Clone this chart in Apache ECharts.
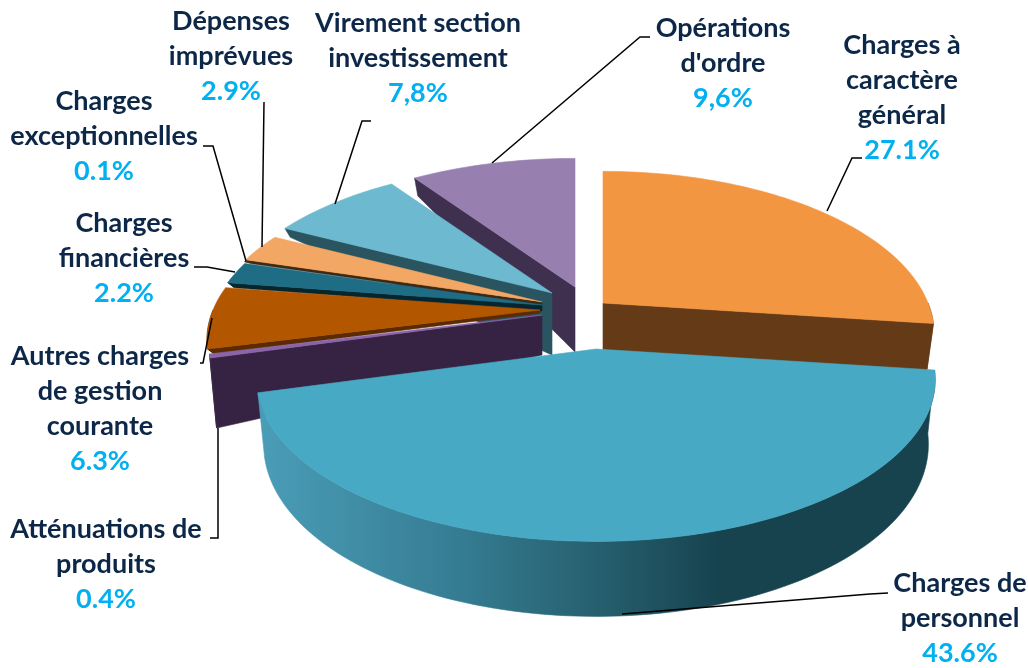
<!DOCTYPE html>
<html>
<head>
<meta charset="utf-8">
<style>
    html, body { margin: 0; padding: 0; background: #fff; }
    #main { width: 1028px; height: 668px; }
</style>
</head>
<body>
<div id="main"></div>
<script src="https://cdn.jsdelivr.net/npm/echarts@6/dist/echarts.min.js"></script>
<script>
// clockwise from 12 o'clock
var categories = ['Charges à caractère général', 'Charges de personnel', 'Atténuations de produits',
    'Autres charges de gestion courante', 'Charges financières', 'Charges exceptionnelles',
    'Dépenses imprévues', 'Virement section investissement', "Opérations d'ordre"];
var values = [27.1, 43.6, 0.4, 6.3, 2.2, 0.1, 2.9, 7.8, 9.6];
var valueLabels = ['27.1%', '43.6%', '0.4%', '6.3%', '2.2%', '0.1%', '2.9%', '7,8%', '9,6%'];

// how each name wraps in the label
var nameLines = [['Charges à', 'caractère', 'général'], ['Charges de', 'personnel'], ['Atténuations de', 'produits'],
    ['Autres charges', 'de gestion', 'courante'], ['Charges', 'financières'], ['Charges', 'exceptionnelles'],
    ['Dépenses', 'imprévues'], ['Virement section', 'investissement'], ['Opérations', "d'ordre"]];

// back to front
var drawOrder = [8, 7, 6, 5, 4, 3, 2, 0, 1];

// exploded centre, radius, wall depth at centre (dc) and at rim (de + dv * front)
var sliceLayout = [
    { cx: 603, cy: 303, rx: 325, backK: 1.03, dc: 47, de: 47, dv: 0, top: '#f39642', wall: '#653a17' },
    { cx: 596, cy: 349, rx: 333, dc: 62, de: 62, dv: 13, top: '#48a9c5', wall: '#17434f' },
    { cx: 542, cy: 315, rx: 327, dc: 40, de: 70, dv: 0, top: '#8a63a8', wall: '#362343' },
    { cx: 540, cy: 310, rx: 327, dc: 3, de: 5, dv: 0, top: '#b35600', wall: '#5a2a00' },
    { cx: 542, cy: 305, rx: 327, dc: 6, de: 5, dv: 0, top: '#1e6d85', wall: '#05262f' },
    { cx: 542, cy: 303, rx: 327, dc: 2, de: 2, dv: 0, top: '#3b2a1a', wall: '#3b2a1a' },
    { cx: 542, cy: 302, rx: 327, dc: 2, de: 3, dv: 0, top: '#f2a864', wall: '#6b3e10' },
    { cx: 552, cy: 293, rx: 327, dc: 62, de: 9, dv: 0, top: '#6cb9d0', wall: '#2a5560' },
    { cx: 575, cy: 287, rx: 327, dc: 65, de: 18, dv: 0, top: '#977fb0', wall: '#3e304e' }
];

// label anchor: centre x, top y
var labelPos = [[902, 28], [960, 566], [106, 512], [100, 339], [124, 206], [104, 84], [231, 4], [418, 6], [723, 11]];

var leaders = [
    [[862, 158], [852, 158], [827, 211]],
    [[888, 593], [870, 594], [622, 614]],
    [[210, 538], [218, 538], [218, 428]],
    [[200, 363], [203, 363], [212, 318]],
    [[194, 267], [207, 267], [235, 272]],
    [[203, 146], [213, 146], [246, 261]],
    [[264, 102], [262, 247]],
    [[371, 121], [362, 121], [335, 204]],
    [[650, 37], [640, 37], [492, 163]]
];

var PERSP = 0.19;
var RY_RATIO = 0.468;

// start / end angle of every slice in degrees
var angles = [];
(function () {
    var total = 0, acc = 0;
    for (var i = 0; i < values.length; i++) total += values[i];
    for (var j = 0; j < values.length; j++) {
        angles.push([acc / total * 360, (acc + values[j]) / total * 360]);
        acc += values[j];
    }
})();

function project(l, deg, r, lower) {
    var a = deg * Math.PI / 180;
    var front = -Math.cos(a) * r;
    var d = 1 - PERSP * front;
    var x = Math.sin(a) * r * l.rx / d;
    var y = front * l.rx * RY_RATIO / d;
    if (front < 0 && l.backK) y *= l.backK;
    if (lower) {
        // bottom rim sits a little inwards, like the perspective of the picture
        x *= 1 - 0.02 * r;
        y += l.dc + (l.de + l.dv * front - l.dc) * r;
    }
    return [l.cx + x, l.cy + y];
}

function arcPoints(l, a0, a1, lower) {
    var pts = [];
    var n = Math.max(2, Math.ceil((a1 - a0) / 1.5));
    for (var i = 0; i <= n; i++) {
        pts.push(project(l, a0 + (a1 - a0) * i / n, 1, lower));
    }
    return pts;
}

function poly(points, fill) {
    return {
        type: 'polygon',
        shape: { points: points },
        style: { fill: fill, stroke: fill, lineWidth: 0.6 }
    };
}

// is the radial wall on this edge turned to the viewer
function wallVisible(l, edgeDeg, otherDeg) {
    var c = [l.cx, l.cy];
    var e = project(l, edgeDeg, 1);
    var o = project(l, otherDeg, 1);
    if (Math.abs(e[0] - c[0]) < 1) return false;
    var lineY = c[1] + (e[1] - c[1]) * (o[0] - c[0]) / (e[0] - c[0]);
    return o[1] < lineY;
}

function renderSlice(params, api) {
    var i = api.value(0);
    var l = sliceLayout[i];
    var a0 = angles[i][0], a1 = angles[i][1];
    var children = [];

    [[a0, a1], [a1, a0]].forEach(function (p) {
        if (wallVisible(l, p[0], p[1])) {
            children.push(poly([
                [l.cx, l.cy],
                project(l, p[0], 1),
                project(l, p[0], 1, true),
                project(l, p[0], 0, true)
            ], l.wall));
        }
    });

    // rim only where it faces front
    var f0 = Math.max(a0, 90), f1 = Math.min(a1, 270);
    if (f1 > f0) {
        var fill = l.wall;
        if (i === 1) {
            fill = new echarts.graphic.LinearGradient(0, 0, 1, 0, [
                { offset: 0, color: '#4a9db8' },
                { offset: 0.3, color: '#357c92' },
                { offset: 0.5, color: '#26606f' },
                { offset: 0.68, color: '#17434f' },
                { offset: 1, color: '#17434f' }
            ]);
        }
        children.push(poly(arcPoints(l, f0, f1).concat(arcPoints(l, f0, f1, true).reverse()), fill));
    }

    children.push(poly([[l.cx, l.cy]].concat(arcPoints(l, a0, a1)), l.top));
    return { type: 'group', children: children };
}

function labelText(i) {
    var lines = nameLines[i].map(function (s) { return '{n|' + s + '}'; });
    lines.push('{v|' + valueLabels[i] + '}');
    return lines.join('\n');
}

var graphics = [];
leaders.forEach(function (pts) {
    graphics.push({
        type: 'polyline',
        silent: true,
        z: 10,
        shape: { points: pts },
        style: { stroke: '#000', lineWidth: 1.5, fill: null }
    });
});
categories.forEach(function (c, i) {
    graphics.push({
        type: 'text',
        silent: true,
        z: 11,
        x: labelPos[i][0],
        y: labelPos[i][1],
        style: {
            text: labelText(i),
            align: 'center',
            verticalAlign: 'top',
            rich: {
                n: { font: 'bold 27px Lato', fill: '#0c2747', lineHeight: 35, align: 'center' },
                v: { font: 'bold 27px Lato', fill: '#00b0f0', lineHeight: 35, align: 'center' }
            }
        }
    });
});

var myChart = echarts.init(document.getElementById('main'));

var option = {
    backgroundColor: '#fff',
    animation: false,
    graphic: graphics,
    series: [
        {
            type: 'custom',
            coordinateSystem: 'none',
            silent: true,
            renderItem: renderSlice,
            data: drawOrder.map(function (i) { return [i, values[i]]; })
        }
    ]
};

myChart.setOption(option);
</script>
</body>
</html>
